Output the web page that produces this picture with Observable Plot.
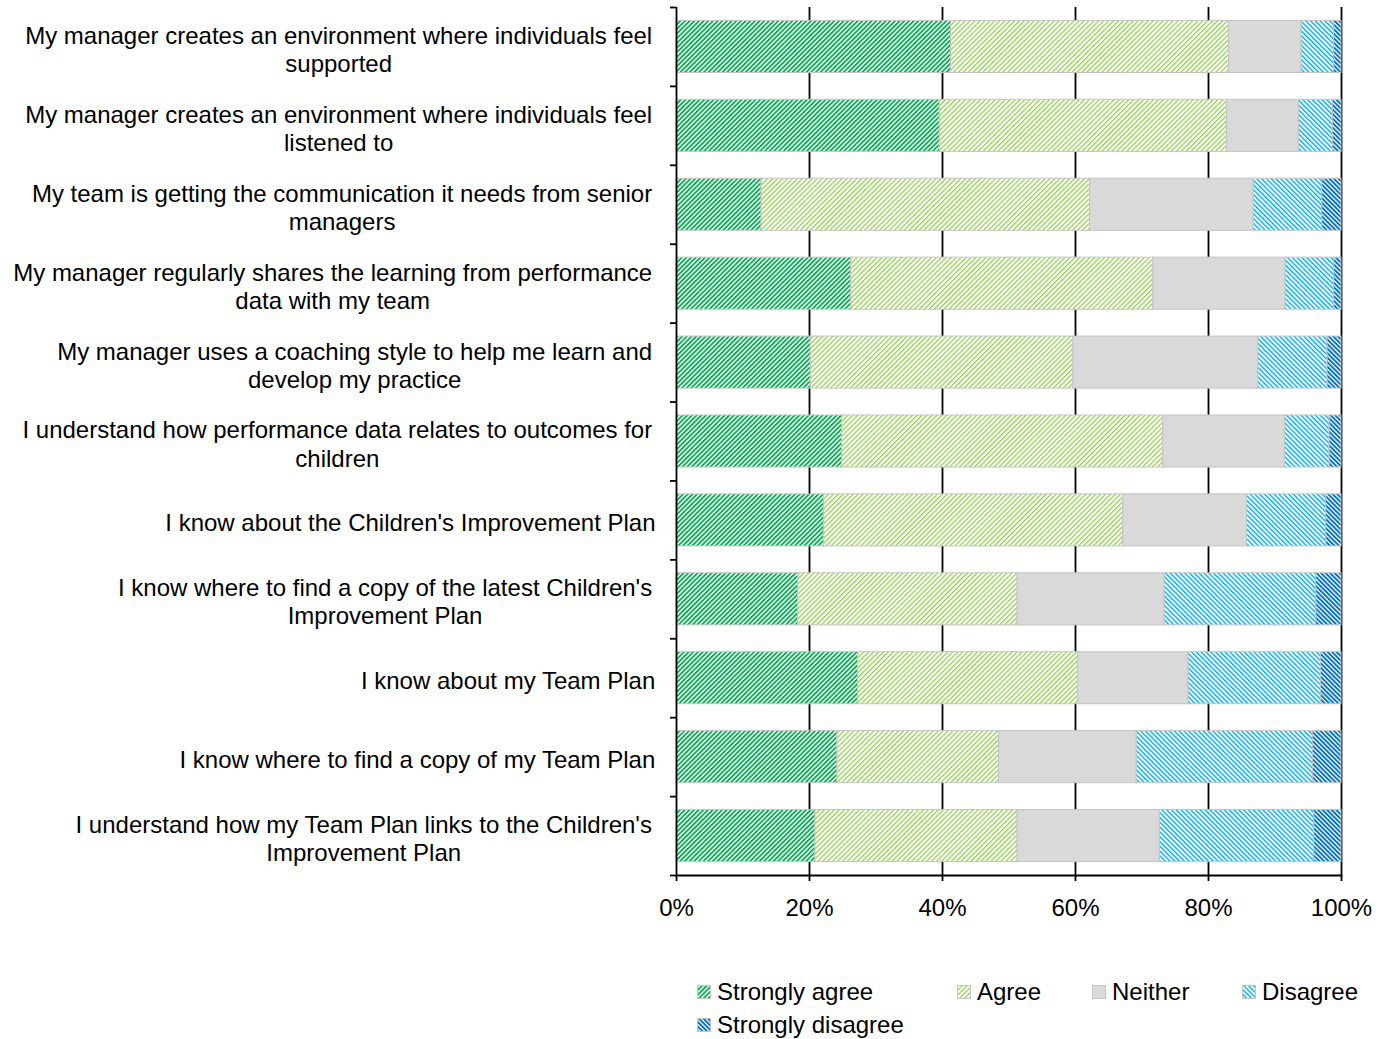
<!DOCTYPE html>
<html>
<head>
<meta charset="utf-8">
<script src="https://cdn.jsdelivr.net/npm/d3@7"></script>
<script src="https://cdn.jsdelivr.net/npm/@observablehq/plot@0.6"></script>
<style>
  body { margin: 0; background: #fff; font-family: "Liberation Sans", Arial, sans-serif; }
  #chart { position: relative; width: 1389px; height: 1039px; overflow: hidden; }
  #chart svg { display: block; }
  .legend { position: absolute; left: 0; top: 0; width: 1389px; height: 100px; }
  .legend .item { position: absolute; display: flex; align-items: center; font-size: 24px; color: #000; white-space: nowrap; }
  .legend .item svg { margin-right: 6px; }
</style>
</head>
<body>
<div id="chart"></div>
<script>
// Survey statements (top to bottom) and their wrapped axis labels
const statements = [
  "My manager creates an environment where individuals feel supported",
  "My manager creates an environment where individuals feel listened to",
  "My team is getting the communication it needs from senior managers",
  "My manager regularly shares the learning from performance data with my team",
  "My manager uses a coaching style to help me learn and develop my practice",
  "I understand how performance data relates to outcomes for children",
  "I know about the Children's Improvement Plan",
  "I know where to find a copy of the latest Children's Improvement Plan",
  "I know about my Team Plan",
  "I know where to find a copy of my Team Plan",
  "I understand how my Team Plan links to the Children's Improvement Plan"
];
const statementLabels = [
  "My manager creates an environment where individuals feel\nsupported",
  "My manager creates an environment where individuals feel\nlistened to",
  "My team is getting the communication it needs from senior\nmanagers",
  "My manager regularly shares the learning from performance\ndata with my team",
  "My manager uses a coaching style to help me learn and\ndevelop my practice",
  "I understand how performance data relates to outcomes for\nchildren",
  "I know about the Children's Improvement Plan",
  "I know where to find a copy of the latest Children's\nImprovement Plan",
  "I know about my Team Plan",
  "I know where to find a copy of my Team Plan",
  "I understand how my Team Plan links to the Children's\nImprovement Plan"
];

// Response categories
const responses = ["Strongly agree", "Agree", "Neither", "Disagree", "Strongly disagree"];

// Share of responses (%) per statement, same order as statements
const stronglyAgree    = [41.3, 39.6, 12.8, 26.3, 20.2, 24.9, 22.2, 18.3, 27.3, 24.2, 20.9];
const agree            = [41.8, 43.2, 49.4, 45.4, 39.5, 48.3, 45.0, 33.0, 33.1, 24.3, 30.4];
const neither          = [10.9, 10.8, 24.6, 19.9, 27.8, 18.3, 18.6, 22.1, 16.6, 20.7, 21.4];
const disagree         = [ 4.9,  5.1, 10.3,  7.3, 10.4,  6.7, 11.9, 22.8, 19.9, 26.5, 23.2];
const stronglyDisagree = [ 1.1,  1.3,  2.9,  1.1,  2.1,  1.8,  2.3,  3.8,  3.1,  4.3,  4.1];

// Axis ticks
const xTicks = [0, 0.2, 0.4, 0.6, 0.8, 1];
const xTickLabels = ["0%", "20%", "40%", "60%", "80%", "100%"];

// Fill patterns per response
const patternIds = ["pat-sa", "pat-ag", "pat-ne", "pat-di", "pat-sd"];
const fills = patternIds.map(id => `url(#${id})`);

const seriesValues = [stronglyAgree, agree, neither, disagree, stronglyDisagree];
const rows = [];
statements.forEach((s, i) => {
  responses.forEach((r, j) => rows.push({statement: s, response: r, value: seriesValues[j][i]}));
});

const W = 1389, H = 940;
const marginLeft = 676, marginRight = 48, marginTop = 7, marginBottom = 65;
const step = (H - marginTop - marginBottom) / statements.length;
const FONT = 24;
const FONT_FAMILY = '"Liberation Sans", Arial, sans-serif';

// Label blocks are right-aligned against the axis, with each line centred in the block
const ctx = document.createElement("canvas").getContext("2d");
ctx.font = `${FONT}px ${FONT_FAMILY}`;
const labelRight = 655;
const labelCenters = statementLabels.map(lbl => {
  const lines = lbl.split("\n");
  const w = d3.max(lines, (ln, k) => ctx.measureText(k < lines.length - 1 ? ln + " " : ln).width);
  return labelRight - w / 2;
});

const labelMarks = statements.map((s, i) => Plot.text([s], {
  y: d => d,
  text: () => statementLabels[i],
  frameAnchor: "left",
  textAnchor: "middle",
  lineAnchor: "middle",
  lineHeight: 1.17,
  dx: labelCenters[i] - marginLeft,
  dy: 2,
  fontSize: FONT,
  fill: "#000"
}));

const svg = Plot.plot({
  width: W,
  height: H,
  marginLeft, marginRight, marginTop, marginBottom,
  style: {fontFamily: FONT_FAMILY, fontSize: `${FONT}px`, color: "#000", background: "#fff", overflow: "visible"},
  x: {domain: [0, 1], axis: null},
  y: {domain: statements, paddingInner: 0.34, paddingOuter: 0.17, round: false, axis: null},
  color: {domain: responses, range: fills},
  marks: [
    // vertical gridlines
    Plot.ruleX(xTicks.slice(1), {stroke: "#000", strokeWidth: 1.8}),
    // stacked 100% bars
    Plot.barX(rows, Plot.stackX({
      x: "value",
      y: "statement",
      fill: "response",
      order: responses,
      offset: "normalize",
      stroke: "#c4c4c4",
      strokeWidth: 1
    })),
    // left axis line and category boundary ticks
    Plot.ruleX([0], {stroke: "#000", strokeWidth: 1.8}),
    Plot.ruleY(statements, {y: d => d, x1: 0, x2: 0, insetLeft: -6, dy: -step / 2, stroke: "#000", strokeWidth: 1.8}),
    Plot.ruleY(statements.slice(-1), {y: d => d, x1: 0, x2: 0, insetLeft: -6, dy: step / 2, stroke: "#000", strokeWidth: 1.8}),
    // bottom axis
    Plot.frame({anchor: "bottom", stroke: "#000", strokeWidth: 1.8}),
    Plot.axisX({
      ticks: xTicks,
      tickFormat: (d) => xTickLabels[xTicks.indexOf(d)],
      tickSize: 6,
      tickPadding: 17,
      stroke: "#000",
      strokeWidth: 1.8,
      fontSize: FONT,
      fill: "#000",
      label: null
    }),
    ...labelMarks
  ]
});

// pattern definitions
const defs = d3.select(svg).insert("defs", ":first-child");
function stripes(id, color, period, stripe, angle) {
  const p = defs.append("pattern")
    .attr("id", id)
    .attr("patternUnits", "userSpaceOnUse")
    .attr("width", period)
    .attr("height", 10)
    .attr("patternTransform", `rotate(${angle})`);
  p.append("rect").attr("width", period).attr("height", 10).attr("fill", "#fff");
  p.append("rect").attr("width", stripe).attr("height", 10).attr("fill", color);
}
stripes("pat-sa", "#00b050", 3.3, 1.8, 45);
stripes("pat-ag", "#92d050", 3.5, 1.3, 45);
defs.append("pattern").attr("id", "pat-ne").attr("patternUnits", "userSpaceOnUse")
  .attr("width", 10).attr("height", 10)
  .append("rect").attr("width", 10).attr("height", 10).attr("fill", "#d9d9d9");
stripes("pat-di", "#00b0f0", 3.4, 1.4, -45);
stripes("pat-sd", "#0070c0", 3.2, 1.9, -45);

const chart = document.getElementById("chart");
chart.appendChild(svg);

// legend below the chart
const legend = document.createElement("div");
legend.className = "legend";
legend.style.top = `${H + 38}px`;
const legendPos = [[697, 0], [957, 0], [1092, 0], [1242, 0], [697, 33]];
responses.forEach((r, j) => {
  const item = document.createElement("div");
  item.className = "item";
  item.style.left = `${legendPos[j][0]}px`;
  item.style.top = `${legendPos[j][1]}px`;
  item.innerHTML = `<svg width="14" height="14"><rect x="0.5" y="0.5" width="13" height="13" fill="${fills[j]}" stroke="#c4c4c4" stroke-width="1"/></svg><span>${r}</span>`;
  legend.appendChild(item);
});
chart.appendChild(legend);
</script>
</body>
</html>
